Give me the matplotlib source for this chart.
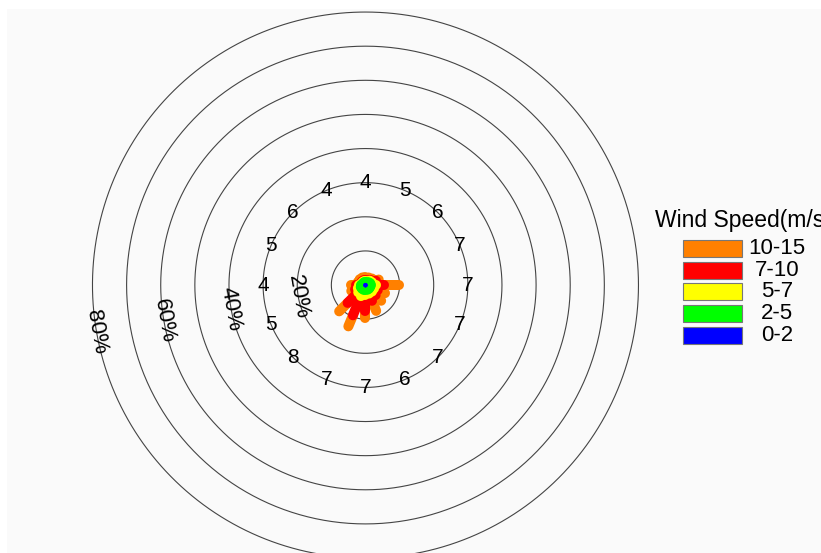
import numpy as np
import matplotlib
matplotlib.use("Agg")
import matplotlib.pyplot as plt
from matplotlib.patches import Rectangle

plt.rcParams['font.family'] = ['Liberation Sans', 'DejaVu Sans']

# 16 compass sectors, clockwise from north
directions = ['N', 'NNE', 'NE', 'ENE', 'E', 'ESE', 'SE', 'SSE',
              'S', 'SSW', 'SW', 'WSW', 'W', 'WNW', 'NW', 'NNW']
dir_deg = np.arange(16) * 22.5

# frequency (%) of each speed class per sector
speed_bins = ['0-2', '2-5', '5-7', '7-10', '10-15']
freq_0_2 = [0.3, 0.3, 0.3, 0.3, 0.3, 0.3, 0.3, 0.3, 0.3, 0.3, 0.3, 0.3, 0.3, 0.3, 0.3, 0.3]
freq_2_5 = [0.6, 0.6, 0.9, 1.2, 1.2, 1.2, 1.2, 1.2, 1.2, 1.2, 1.2, 1.2, 0.9, 0.6, 0.6, 0.6]
freq_5_7 = [0.3, 0.3, 0.6, 0.6, 1.5, 1.2, 1.2, 1.2, 1.5, 2.0, 1.5, 0.9, 0.6, 0.3, 0.3, 0.3]
freq_7_10 = [0.3, 0.3, 0.3, 1.2, 2.3, 1.2, 1.5, 2.3, 4.7, 6.1, 4.4, 0.9, 0.9, 0.3, 0.3, 0.3]
freq_10_15 = [0.9, 0.9, 0.6, 0.9, 4.4, 2.3, 2.3, 3.2, 2.0, 3.5, 3.5, 1.2, 1.5, 0.9, 0.9, 0.9]
bin_colors = ['#0000ff', '#00ff00', '#ffff00', '#ff0000', '#ff8000']
bin_widths = [1.8, 7.2, 7.2, 7.2, 7.2]

# value printed on the 30% ring for each sector
ring_labels = [4, 5, 6, 7, 7, 7, 7, 6, 7, 7, 8, 5, 4, 5, 6, 4]
circle_levels = [10, 20, 30, 40, 50, 60, 70, 80]
pct_rings = [20, 40, 60, 80]

freqs = np.array([freq_0_2, freq_2_5, freq_5_7, freq_7_10, freq_10_15])
cum = np.cumsum(freqs, axis=0)

fig = plt.figure(figsize=(8.21, 5.53), dpi=100, facecolor='#fafafa')
fig.add_artist(Rectangle((0, 1 - 9 / 553), 1, 9 / 553, transform=fig.transFigure,
                         facecolor='white', edgecolor='none'))
fig.add_artist(Rectangle((0, 0), 7 / 821, 1, transform=fig.transFigure,
                         facecolor='white', edgecolor='none'))

ax = fig.add_axes([0.0960, -0.0338, 0.6983, 1.0367], projection='polar')
ax.set_theta_zero_location('N')
ax.set_theta_direction(-1)
ax.set_ylim(0, 84)
ax.axis('off')

# frequency circles
t = np.linspace(0, 2 * np.pi, 721)
for lev in circle_levels:
    ax.plot(t, np.full_like(t, lev), color='#444444', linewidth=0.8,
            solid_capstyle='butt', zorder=1)

theta = np.deg2rad(dir_deg)

# petals: outermost class first so inner classes sit on top
for k in range(len(speed_bins) - 1, -1, -1):
    for i in range(16):
        r0 = cum[k - 1, i] if k > 0 else 0
        ax.plot([theta[i], theta[i]], [r0, cum[k, i]], color=bin_colors[k],
                linewidth=bin_widths[k], solid_capstyle='round',
                zorder=3 + (5 - k))

for i, lab in enumerate(ring_labels):
    ax.text(theta[i], 30, str(lab), ha='center', va='center', fontsize=15,
            zorder=10)

for p in pct_rings:
    ax.text(np.deg2rad(260), p, f'{p}%', ha='center', va='center', fontsize=16,
            rotation=-80, rotation_mode='anchor', zorder=10)

# legend
fig.text(655 / 821, 1 - 220 / 553, 'Wind Speed(m/s)', ha='left', va='center',
         fontsize=16.5)
for j, k in enumerate(range(len(speed_bins) - 1, -1, -1)):
    top = 240 + j * 21.7
    fig.add_artist(Rectangle((683 / 821, 1 - (top + 17) / 553), 59 / 821, 17 / 553,
                             transform=fig.transFigure, facecolor=bin_colors[k],
                             edgecolor='#777777', linewidth=0.8))
    fig.text(777 / 821, 1 - (top + 8.5) / 553, speed_bins[k], ha='center',
             va='center', fontsize=16)

fig.savefig('out.png', dpi=100, facecolor=fig.get_facecolor())
